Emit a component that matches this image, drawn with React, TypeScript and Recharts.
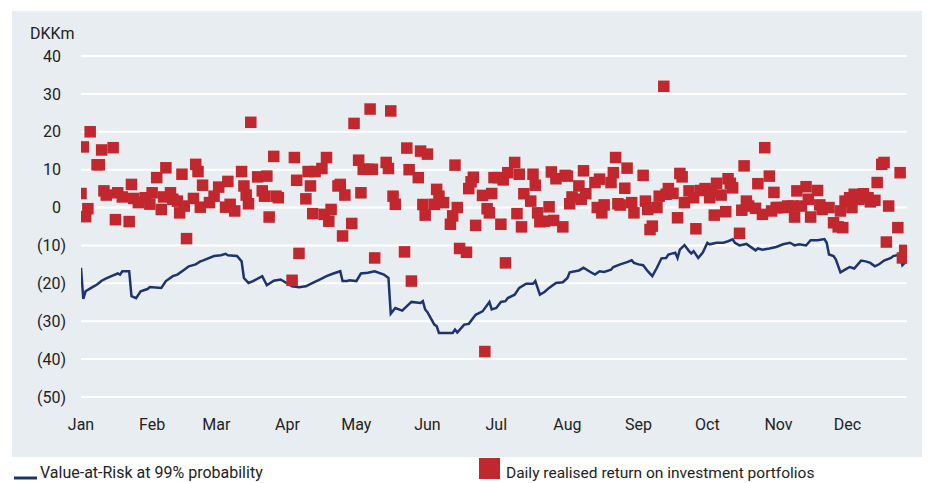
import React from 'react';
import { ComposedChart, Line, Scatter, XAxis, YAxis, CartesianGrid } from 'recharts';

const monthTicks = [0, 31, 59, 90, 120, 151, 181, 212, 243, 273, 304, 334];
const monthLabels = ['Jan', 'Feb', 'Mar', 'Apr', 'May', 'Jun', 'Jul', 'Aug', 'Sep', 'Oct', 'Nov', 'Dec'];
const yTicks = [40, 30, 20, 10, 0, -10, -20, -30, -40, -50];

const returnDays = [
  0, 1, 2, 3, 4, 7, 8, 9, 10, 11, 14, 15, 16, 18, 21, 22, 23, 25, 28, 30,
  31, 33, 35, 36, 37, 39, 40, 42, 43, 44, 45, 46, 49, 50, 51, 52, 53, 56, 58, 60,
  63, 64, 65, 67, 70, 71, 72, 73, 74, 77, 79, 80, 81, 82, 84, 85, 86, 92, 93, 94,
  95, 98, 99, 100, 101, 102, 105, 106, 107, 108, 109, 112, 113, 114, 115, 118, 119, 121, 122, 123,
  125, 126, 127, 128, 133, 134, 135, 136, 137, 141, 142, 143, 144, 147, 148, 149, 150, 151, 154, 155,
  156, 158, 161, 162, 163, 164, 165, 168, 169, 170, 171, 172, 175, 176, 177, 178, 179, 180, 182, 183,
  184, 185, 186, 189, 190, 191, 192, 193, 196, 197, 198, 199, 200, 202, 204, 205, 206, 207, 210, 211,
  212, 213, 214, 217, 218, 219, 220, 224, 225, 226, 227, 228, 231, 232, 233, 234, 235, 237, 238, 240,
  241, 245, 246, 247, 248, 249, 251, 252, 254, 255, 256, 258, 260, 261, 262, 263, 265, 267, 268, 270,
  272, 274, 275, 276, 277, 279, 281, 282, 283, 284, 287, 288, 289, 290, 291, 294, 295, 297, 298, 300,
  301, 302, 303, 304, 306, 308, 310, 311, 312, 314, 316, 317, 318, 321, 322, 323, 326, 328, 330, 331,
  332, 333, 335, 336, 337, 339, 341, 343, 344, 346, 347, 349, 350, 351, 352, 356, 357, 358, 359,
];
const returnValues = [
  3.7, 16, -2.4, -0.3, 20, 11.3, 11.3, 15.2, 4.4, 3.3, 15.8, -3.2, 3.9, 2.8, -3.7, 6.1, 2.4, 1.3, 2.6, 0.9,
  3.9, 7.9, -0.5, 2.8, 10.5, 3.9, 2.2, 1.7, -1.4, 8.8, 0.4, -8.2, 2.4, 11.4, 9.5, 0.1, 5.9, 1.3, 3.0, 5.4,
  0.1, 6.9, 0.85, -0.9, 9.5, 5.7, 3.3, 1.0, 22.5, 8.1, 4.4, 3.0, 8.3, -2.5, 13.5, 3.0, 2.6, -19.2, 13.2, 7.2,
  -12.1, 2.3, 9.5, 5.7, -1.6, 9.5, 10.3, -1.8, 13.2, -3.6, -0.5, 5.7, 6.1, -7.5, 3.3, -4.2, 22.2, 12.5, 3.9, 10.1,
  10.1, 26, 10.1, -13.3, 11.9, 10.3, 25.5, 3, 0.85, -11.7, 15.7, 10, -19.4, 7.9, 14.9, 0.8, -2, 14.1, 0.85, 4.8,
  3, 1.3, -4.4, -2.2, 11.2, 0, -10.8, -11.8, 5, 6.8, 8, -4.7, 3.2, -38, -0.3, -1.4, 3.7, 7.9, 7.9, -4.4,
  7.3, -14.6, 9.2, 11.9, -1.6, 8.8, -5.1, 3.65, 1.7, 8.8, 5.9, -1.4, -3.75, -3.6, 0.2, 9.4, -3.4, 7.6, -5.1, 8.5,
  8.3, 1, 2.8, 5.7, 2.2, 9.7, 3.65, 6.6, 0, 7.5, -1.4, 0.7, 6.6, 9.2, 13.2, 1, 0.66, 5.1, 10.4, 1.3,
  -1.4, 8.5, 1.7, -0.5, -5.8, -4.9, 0, 3, 32, 3.5, 5, 3.75, -2.7, 9, 8.1, 1.3, 4.4, 2.6, -5.6, 4.5,
  5, 2.6, 4.1, -2, 6.4, 3.3, -1.1, 7.6, 6.4, 5.2, -6.8, -0.7, 11, 1.7, 0.4, -0.2, 6.3, -1.8, 15.8, 8.3,
  -0.9, 4.0, 0, 0, 0, 0.4, 0.4, -2.5, 4.4, 0.4, 5.5, 2.2, -2.5, 4.5, 0.7, -0.5, 0, -4, -5.1, -0.9,
  -5.3, 1.7, 2.6, 0, 3.5, 2.2, 3.65, 2.6, 1.5, 1.9, 6.6, 11.4, 11.9, -9.1, 0.4, -5.3, 9.2, -13.3, -11.3,
];

const varDays = [
  0, 1, 2, 5, 7, 9, 11, 14, 16, 17, 18, 21, 22, 24, 26, 29, 30, 35, 37, 40,
  42, 45, 47, 50, 52, 53, 58, 61, 63, 64, 68, 70, 71, 73, 75, 79, 81, 84, 87, 92,
  95, 98, 101, 104, 107, 110, 113, 114, 116, 117, 120, 122, 125, 128, 132, 134, 135, 137, 140, 144,
  148, 149, 150, 151, 154, 155, 156, 162, 163, 164, 167, 169, 172, 175, 178, 179, 181, 183, 185, 186,
  189, 191, 194, 197, 198, 200, 202, 204, 207, 210, 212, 213, 217, 219, 222, 224, 226, 228, 231, 232,
  235, 238, 240, 241, 243, 245, 247, 249, 251, 253, 255, 256, 259, 260, 261, 263, 265, 266, 267, 269,
  271, 273, 274, 277, 280, 282, 284, 285, 287, 290, 294, 295, 297, 300, 303, 306, 309, 311, 313, 316,
  318, 321, 324, 325, 326, 328, 329, 331, 333, 335, 337, 340, 342, 344, 346, 348, 350, 353, 354, 357,
  358, 359, 360,
];
const varValues = [
  -15.9, -24.1, -22.1, -21, -20.3, -19.3, -18.7, -17.9, -17.4, -17.7, -16.8, -16.8, -23.4, -23.9, -22.1, -21.5, -21, -21.2, -19.4, -18.1,
  -17.7, -16.4, -15.5, -15, -14.2, -14, -12.8, -12.6, -12.2, -12.6, -12.8, -14.2, -18.6, -19.9, -19.4, -18.1, -20.5, -19.3, -19, -20.8,
  -21, -20.8, -19.9, -19, -18.1, -17.4, -16.8, -19.4, -19.4, -19.2, -19.4, -17.4, -17.2, -16.8, -17.7, -18.6, -28, -26.5, -27.2, -24.9,
  -25.2, -24.7, -26.9, -27.6, -30.9, -31.3, -33.1, -33.1, -32.2, -33, -30.9, -30.7, -28.3, -27.4, -24.9, -26.9, -26.5, -24.9, -24.7, -23.9,
  -23, -21.2, -20.1, -20.1, -19.4, -23, -22.3, -21.2, -19.9, -19.7, -18.6, -17.1, -16.6, -15.9, -17, -17.7, -16.8, -17, -16.4, -15.7,
  -15, -14.4, -13.9, -14.6, -15, -15.2, -16.8, -18.1, -15.9, -13.4, -13.3, -12.4, -11.9, -13.3, -11.1, -9.9, -11.5, -12.1, -11.5, -13.3,
  -11.9, -9.3, -9.7, -9.3, -9.3, -8.9, -8.4, -9.3, -10, -9.6, -11.3, -10.8, -11.1, -10.8, -10.4, -9.7, -9.3, -10, -9.7, -10,
  -8.6, -8.6, -8.3, -9.3, -12.4, -12.8, -13.7, -17.1, -16.4, -15.7, -16.1, -14, -14.2, -14.6, -15.5, -14.9, -14, -13.3, -12.8, -12.4,
  -15.2, -14.6, -14.2,
];

const returnData = returnDays.map((d, i) => ({ day: d, value: returnValues[i] }));
const varData = varDays.map((d, i) => ({ day: d, value: varValues[i] }));

const FONT = 'Roboto, "Noto Sans", sans-serif';
const TEXT = '#222222';
const NAVY = '#1c3570';
const RED = '#c1272d';
const PANEL = '#e8edf1';

const XTick = (props: any) => {
  const { x, y, payload } = props;
  const idx = monthTicks.indexOf(payload.value);
  return (
    <text x={x} y={y + 33} textAnchor="middle" fontFamily={FONT} fontSize={16} fill={TEXT}>
      {monthLabels[idx]}
    </text>
  );
};

const YTick = (props: any) => {
  const { x, y, payload } = props;
  const v = payload.value as number;
  const label = v < 0 ? `(${-v})` : `${v}`;
  return (
    <text x={x + (v < 0 ? 5 : 0)} y={y} dy={5.7} textAnchor="end" fontFamily={FONT} fontSize={16} fill={TEXT}>
      {label}
    </text>
  );
};

const SquareDot = (props: any) => {
  const { cx, cy } = props;
  if (cx == null || cy == null) return null;
  return <rect x={cx - 5.75} y={cy - 5.75} width={11.5} height={11.5} fill={RED} />;
};

export default function App() {
  return (
    <div style={{ position: 'absolute', left: 0, top: 0, width: 928, height: 483, background: '#ffffff', overflow: 'hidden' }}>
      <div style={{ position: 'absolute', left: 12, top: 11, width: 910, height: 446, background: PANEL }} />
      <div style={{ position: 'absolute', left: 12, top: 11 }}>
        <ComposedChart width={910} height={446} margin={{ top: 45, right: 15, bottom: 0, left: 0 }}>
          <CartesianGrid horizontal vertical={false} stroke="#ffffff" strokeWidth={2} />
          <XAxis
            dataKey="day"
            type="number"
            domain={[0, 360]}
            ticks={monthTicks}
            height={60}
            axisLine={false}
            tickLine={false}
            tickSize={0}
            tickMargin={0}
            tick={<XTick />}
            interval={0}
            allowDataOverflow
          />
          <YAxis
            type="number"
            domain={[-50, 40]}
            ticks={yTicks}
            width={69}
            axisLine={false}
            tickLine={false}
            tickSize={0}
            tickMargin={20}
            tick={<YTick />}
            interval={0}
            allowDataOverflow
          />
          <Line
            data={varData}
            dataKey="value"
            type="linear"
            stroke={NAVY}
            strokeWidth={2.5}
            dot={false}
            activeDot={false}
            isAnimationActive={false}
          />
          <Scatter data={returnData} dataKey="value" shape={<SquareDot />} isAnimationActive={false} />
        </ComposedChart>
      </div>
      <svg width={928} height={483} style={{ position: 'absolute', left: 0, top: 0, pointerEvents: 'none' }}>
        <text x={30} y={39} fontFamily={FONT} fontSize={16} fill={TEXT}>DKKm</text>
        <line x1={14} y1={478} x2={37} y2={478} stroke={NAVY} strokeWidth={3} />
        <text x={40} y={477.5} fontFamily={FONT} fontSize={16} fill={TEXT}>Value-at-Risk at 99% probability</text>
        <rect x={479} y={458} width={21} height={21} fill={RED} />
        <text x={506} y={477.5} fontFamily={FONT} fontSize={15.5} fill={TEXT}>Daily realised return on investment portfolios</text>
      </svg>
    </div>
  );
}
